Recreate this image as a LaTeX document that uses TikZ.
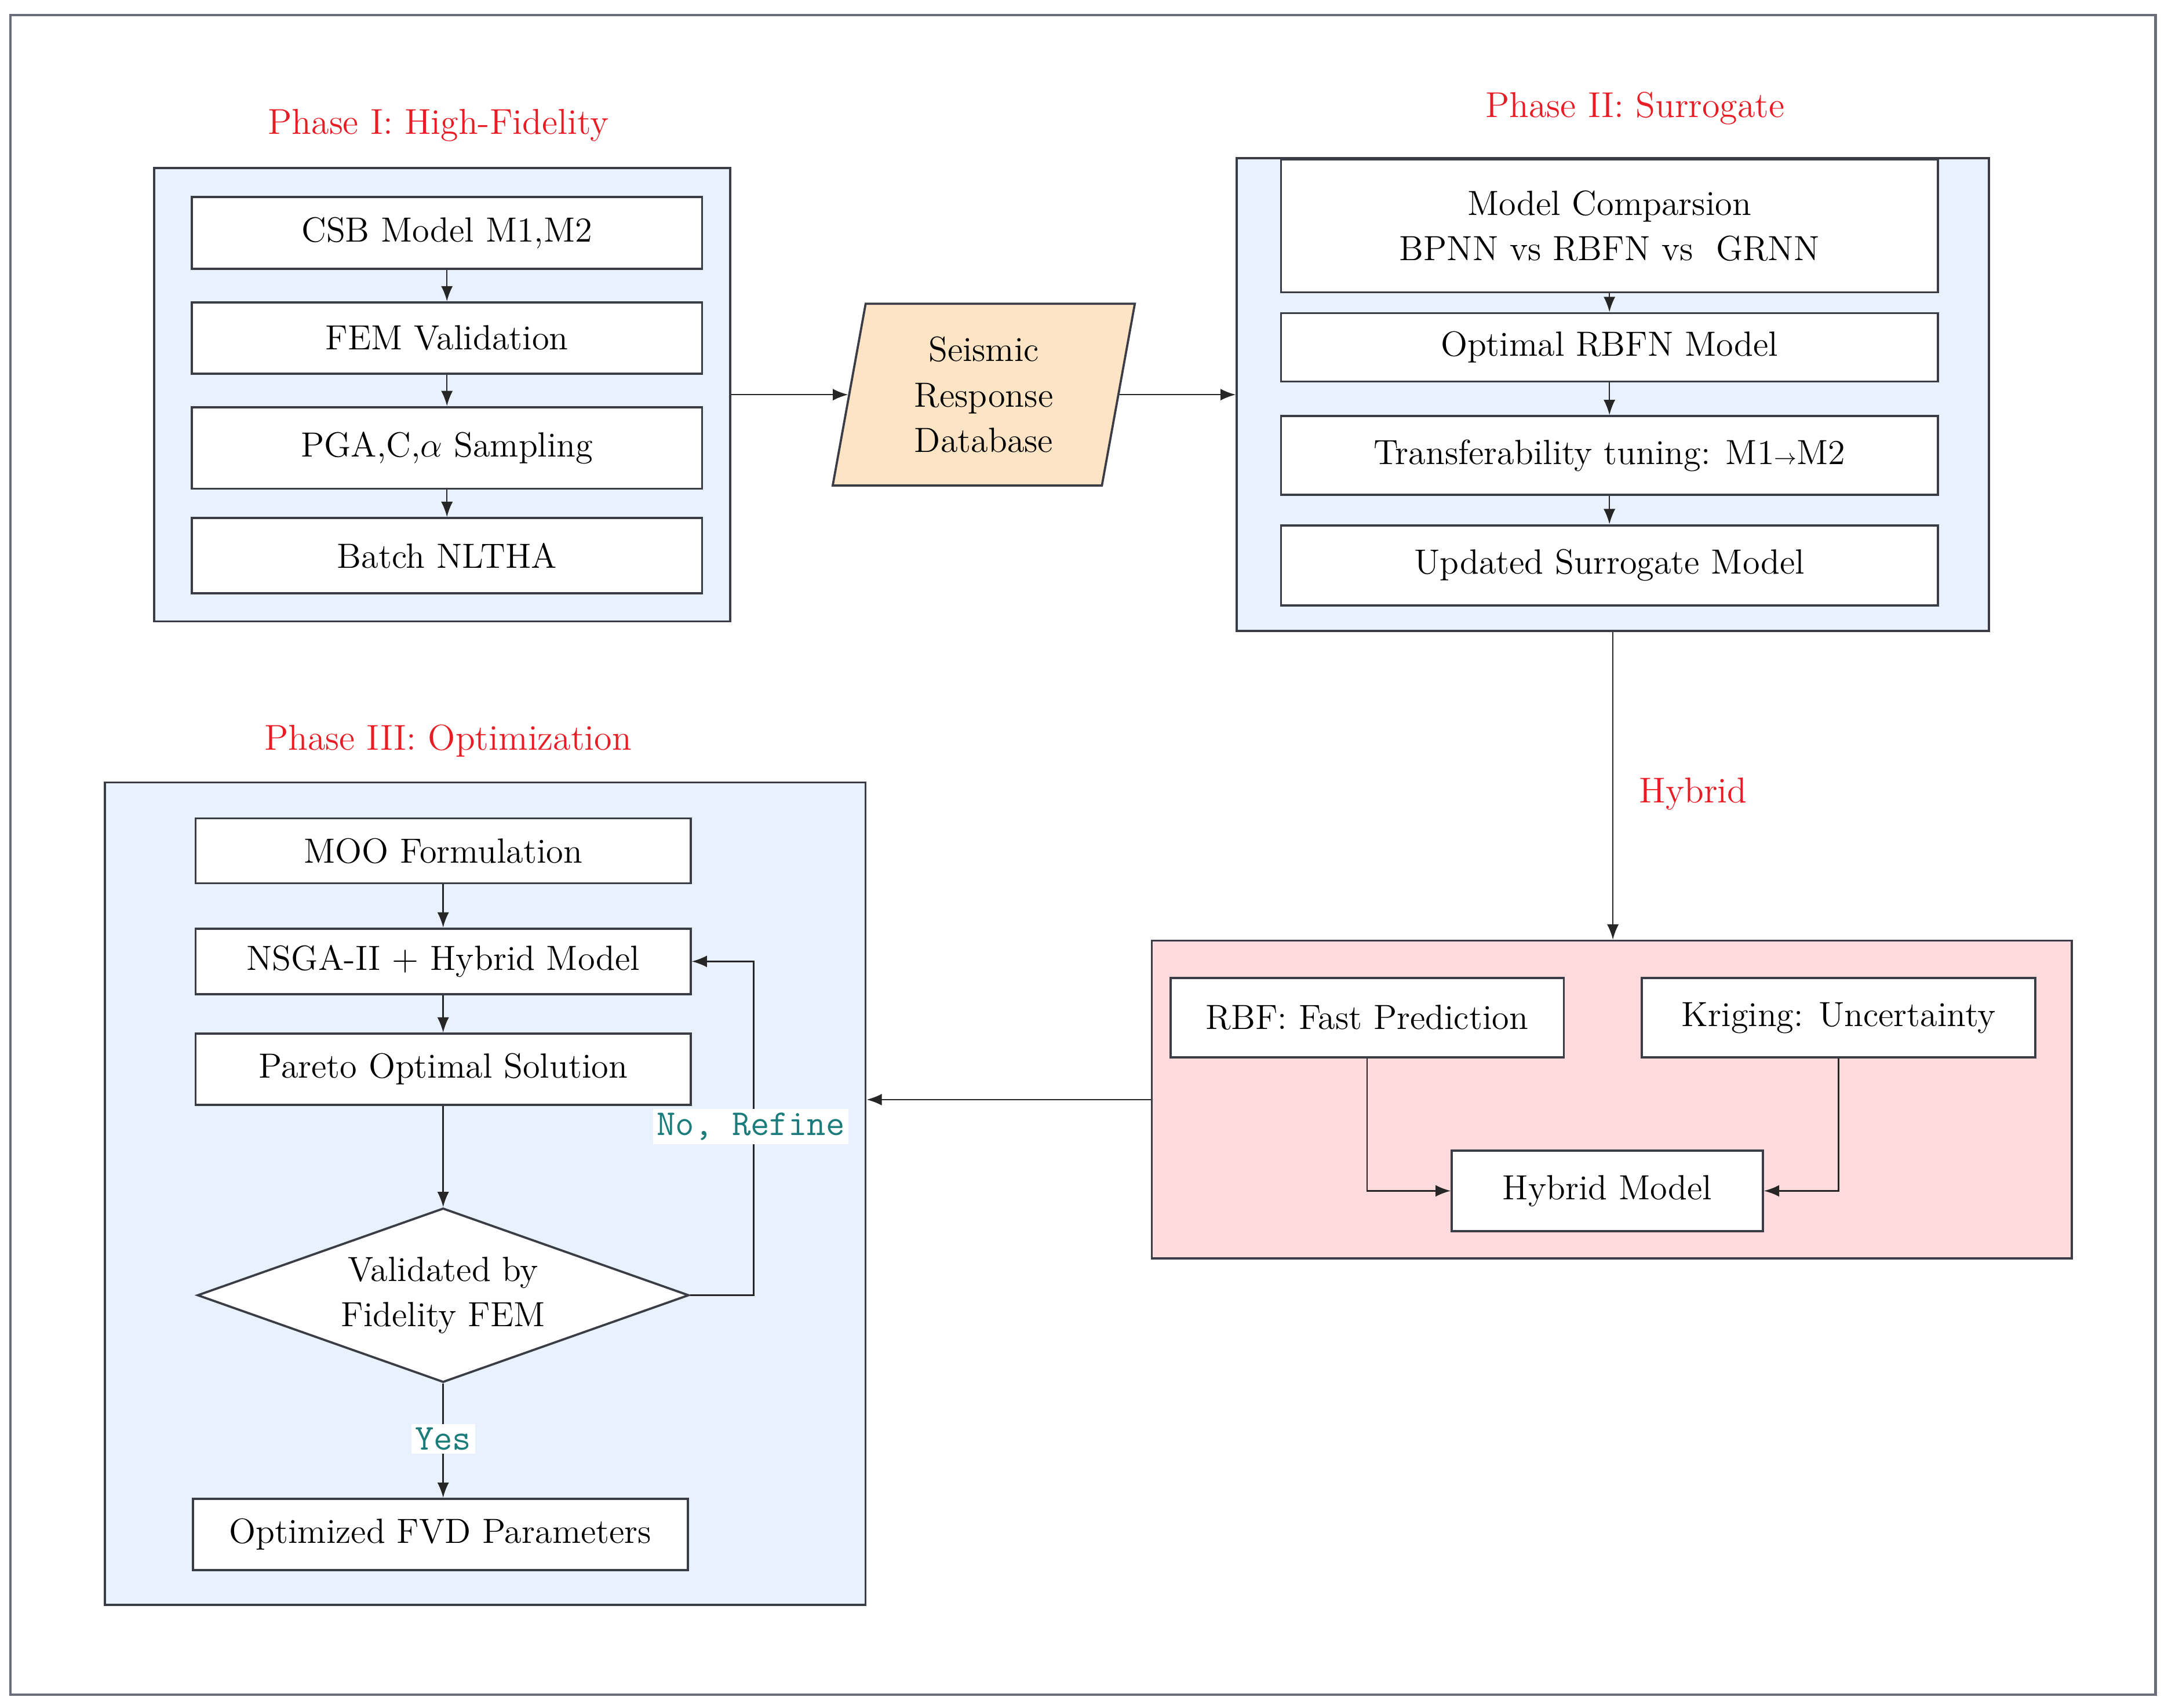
\documentclass[tikz,border=0pt]{standalone}
\usepackage{fontspec}
\usetikzlibrary{arrows.meta,shapes.geometric}
\definecolor{phaseblue}{RGB}{232,241,253}
\definecolor{hybridpink}{RGB}{255,219,221}
\definecolor{dbpeach}{RGB}{252,228,196}
\definecolor{titlered}{RGB}{232,28,36}
\definecolor{labelteal}{RGB}{28,124,124}
\definecolor{edgegray}{RGB}{58,60,70}
\definecolor{framegray}{RGB}{105,110,120}
\begin{document}
\begin{tikzpicture}[
    txt/.style={font=\fontsize{14.4}{18.7}\selectfont},
    phasetitle/.style={font=\fontsize{14.8}{18}\selectfont,text=titlered},
    phasebox/.style={draw=edgegray,line width=0.9pt,fill=phaseblue},
    hybridbox/.style={draw=edgegray,line width=0.9pt,fill=hybridpink},
    stepbox/.style={draw=edgegray,line width=0.9pt,fill=white,txt,align=center},
    dbshape/.style={trapezium,trapezium left angle=76,trapezium right angle=104,
        trapezium stretches body,minimum width=4.37cm,minimum height=2.63cm,
        draw=edgegray,line width=0.9pt,fill=dbpeach,txt,align=center},
    check/.style={diamond,aspect=2.82,draw=edgegray,line width=0.9pt,fill=white,txt,align=center},
    tag/.style={text=labelteal,fill=white,inner sep=1.5pt,font=\fontsize{15}{16}\selectfont\ttfamily},
    flowarrow/.style={-{Latex[length=2.2mm,width=1.7mm]},line width=0.6pt,draw=black!85}
]
\useasboundingbox (0,0) rectangle (31.36,-24.71);
\draw[framegray,line width=1pt] (0.15,-0.22) rectangle (31.18,-24.52);

% Phase I
\node[phasetitle] (t1) at (6.34,-1.81) {Phase I: High-Fidelity};
\node[phasebox,minimum width=8.33cm,minimum height=6.56cm] (p1) at (6.395,-5.71) {};
\node[stepbox,minimum width=7.38cm,minimum height=1.04cm] (csb) at (6.465,-3.37) {CSB Model M1,M2};
\node[stepbox,minimum width=7.38cm,minimum height=1.03cm] (fem) at (6.465,-4.89) {FEM Validation};
\node[stepbox,minimum width=7.38cm,minimum height=1.18cm] (pga) at (6.465,-6.48) {PGA,C,$\alpha$ Sampling};
\node[stepbox,minimum width=7.38cm,minimum height=1.09cm] (nltha) at (6.465,-8.04) {Batch NLTHA};
\draw[flowarrow] (csb) -- (fem);
\draw[flowarrow] (fem) -- (pga);
\draw[flowarrow] (pga) -- (nltha);

% database
\node[dbshape] (db) at (14.23,-5.71) {Seismic\\Response\\Database};
\draw[flowarrow] (p1.east) -- (db.left side);

% Phase II
\node[phasetitle] (t2) at (23.65,-1.57) {Phase II: Surrogate};
\node[phasebox,minimum width=10.88cm,minimum height=6.84cm] (p2) at (23.33,-5.71) {};
\node[stepbox,minimum width=9.5cm,minimum height=1.92cm] (cmp) at (23.28,-3.27) {Model Comparsion\\BPNN vs RBFN vs\ \ GRNN};
\node[stepbox,minimum width=9.5cm,minimum height=0.99cm] (rbfn) at (23.28,-5.025) {Optimal RBFN Model};
\node[stepbox,minimum width=9.5cm,minimum height=1.14cm] (tune) at (23.28,-6.59) {Transferability tuning: M1{\small$\rightarrow$}M2};
\node[stepbox,minimum width=9.5cm,minimum height=1.16cm] (upd) at (23.28,-8.18) {Updated Surrogate Model};
\draw[flowarrow] (db.right side) -- (p2.west);
\draw[flowarrow] (cmp) -- (rbfn);
\draw[flowarrow] (rbfn) -- (tune);
\draw[flowarrow] (tune) -- (upd);

% hybrid
\node[phasetitle] (t4) at (24.49,-11.49) {Hybrid};
\node[hybridbox,minimum width=13.31cm,minimum height=4.6cm] (hyb) at (23.315,-15.91) {};
\node[stepbox,minimum width=5.69cm,minimum height=1.15cm] (rbf) at (19.775,-14.725) {RBF: Fast Prediction};
\node[stepbox,minimum width=5.69cm,minimum height=1.15cm] (krig) at (26.595,-14.725) {Kriging: Uncertainty};
\node[stepbox,minimum width=4.5cm,minimum height=1.16cm] (hm) at (23.25,-17.23) {Hybrid Model};
\draw[flowarrow] (p2.south) -- (p2.south |- hyb.north);
\draw[flowarrow] (rbf.south) |- (hm.west);
\draw[flowarrow] (krig.south) |- (hm.east);

% Phase III
\node[phasetitle] (t3) at (6.48,-10.72) {Phase III: Optimization};
\node[phasebox,minimum width=11cm,minimum height=11.9cm] (p3) at (7.02,-17.27) {};
\node[stepbox,minimum width=7.16cm,minimum height=0.94cm] (moo) at (6.41,-12.31) {MOO Formulation};
\node[stepbox,minimum width=7.16cm,minimum height=0.95cm] (nsga) at (6.41,-13.91) {NSGA-II + Hybrid Model};
\node[stepbox,minimum width=7.16cm,minimum height=1.03cm] (pareto) at (6.41,-15.47) {Pareto Optimal Solution};
\node[check,minimum width=7.11cm,minimum height=2.52cm] (valid) at (6.41,-18.74) {Validated by\\Fidelity FEM};
\node[stepbox,minimum width=7.16cm,minimum height=1.03cm] (fvd) at (6.37,-22.20) {Optimized FVD Parameters};
\draw[flowarrow] (hyb.west) -- (p3.east |- hyb.west);
\draw[flowarrow] (moo) -- (nsga);
\draw[flowarrow] (nsga) -- (pareto);
\draw[flowarrow] (pareto) -- (valid);
\draw[flowarrow] (valid.east) -- ++(0.92,0) |- (nsga.east);
\draw[flowarrow] (valid.south) -- (valid.south |- fvd.north);
\node[tag] (no) at (10.86,-16.30) {No, Refine};
\node[tag] (yes) at (6.41,-20.82) {Yes};
\end{tikzpicture}
\end{document}
